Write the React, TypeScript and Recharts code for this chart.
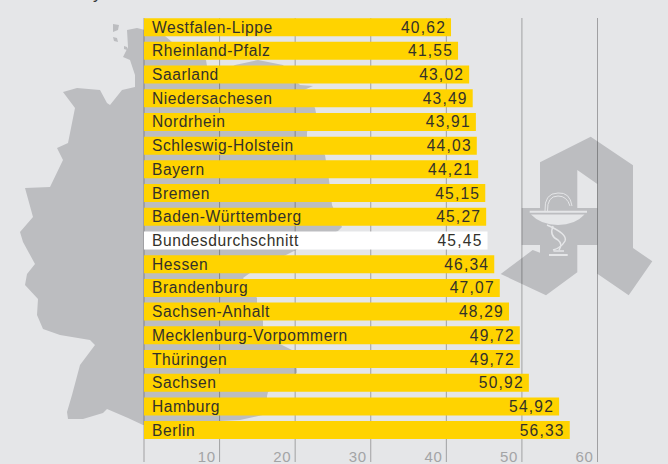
import { Bar, BarChart, CartesianGrid, Cell, LabelList, XAxis, YAxis } from "recharts";

const regions = [
  "Westfalen-Lippe",
  "Rheinland-Pfalz",
  "Saarland",
  "Niedersachesen",
  "Nordrhein",
  "Schleswig-Holstein",
  "Bayern",
  "Bremen",
  "Baden-Württemberg",
  "Bundesdurchschnitt",
  "Hessen",
  "Brandenburg",
  "Sachsen-Anhalt",
  "Mecklenburg-Vorpommern",
  "Thüringen",
  "Sachsen",
  "Hamburg",
  "Berlin",
];
const values = [
  40.62, 41.55, 43.02, 43.49, 43.91, 44.03, 44.21, 45.15, 45.27, 45.45, 46.34,
  47.07, 48.29, 49.72, 49.72, 50.92, 54.92, 56.33,
];
const xTicks = [0, 10, 20, 30, 40, 50, 60];
const averageLabel = "Bundesdurchschnitt";

const data = regions.map((name, i) => ({ name, value: values[i] }));

const FONT = '"Liberation Sans", Arial, sans-serif';
const BG = "#e5e6e8";
const SHAPE = "#bcbdc0";

// backdrop: silhouette of Germany and the pharmacy "A", not data
const MAP_PATH =
  "M127 30 L137 28 L145 30 L165 36 L172 42 L190 52 L206 60 L207 66 L220 74 L235 65 L258 60 L283 65 L295 80 L300 85 L313 86 L304 90 L315 108 L316 113 L307 132 L307 138 L325 155 L329 180 L332 205 L342 227 L338 231 L296 250 L288 254 L250 273 L243 278 L257 298 L257 303 L263 321 L263 326 L280 344 L292 350 L297 370 L297 373 L268 392 L267 396 L267 414 L240 420 L220 421 L143 425 L128 418 L107 409 L103 413 L83 419 L68 419 L67 412 L72 395 L80 365 L95 345 L90 340 L60 335 L43 329 L37 315 L38 299 L25 285 L27 274 L35 264 L23 242 L20 232 L33 217 L25 188 L50 187 L63 160 L57 148 L68 143 L75 108 L63 92 L77 88 L100 90 L107 103 L110 105 L122 90 L135 87 L135 75 L130 60 L123 57 L128 47 Z " +
  "M113 24 L119 25 L118 30 L113 32 Z M113 37 L117 38 L118 42 L114 41 Z M124 46 L127 47 L127 50 L124 49 Z";
const LOGO_PATH =
  "M590.7 136.7 L633 165.3 L633 248 L652.3 261.3 L628.7 295.3 L597.3 273.7 L597.3 245 L577.3 245 L577.3 272.3 L546 295.3 L500.7 274 L532.7 250 L540 252.7 L540 245 L521.7 245 L521.7 208 L540 208 L540 162.3 Z " +
  "M577.3 170 L597.3 184 L597.3 208 L577.3 208 Z";

function Backdrop() {
  return (
    <svg width={668} height={464} style={{ position: "absolute", left: 0, top: 0 }}>
      <path d={MAP_PATH} fill={SHAPE} />
      <path d={LOGO_PATH} fill={SHAPE} fillRule="evenodd" />
      <g fill="none" stroke={BG}>
        <path d="M529.7 211.7 H587" strokeWidth={2} />
        <path d="M545 211 Q544 193 558 193 Q570 192 572 206" strokeWidth={1} />
        <path d="M547.5 211 Q547 196 558 196 Q567 196 570 206" strokeWidth={1} />
        <path d="M547 225 Q568 234 565 241 Q561 248 553 250" strokeWidth={1.5} />
        <path d="M553 226 Q549 236 558 240 Q563 244 559 250" strokeWidth={1.5} />
        <path d="M549 255 H567.7" strokeWidth={2} />
        <path d="M553.5 251 H564" strokeWidth={1.5} />
      </g>
      <path d="M531 214.5 H584.5 Q575 225 558 225 Q541 225 531 214.5 Z" fill={BG} />
      <text x={93} y={-1} fontFamily={FONT} fontSize={17} fill="#3a3a3c">
        y
      </text>
    </svg>
  );
}

function AxisTick({ x, y, payload }: { x: number; y: number; payload: { value: number } }) {
  if (payload.value === 0) return null;
  return (
    <text
      x={x - 4}
      y={y}
      textAnchor="end"
      fontFamily={FONT}
      fontSize={15}
      letterSpacing={0.6}
      fill="#a3a4a6"
    >
      {payload.value}
    </text>
  );
}

export default function App() {
  return (
    <div
      style={{
        position: "absolute",
        left: 0,
        top: 0,
        width: 668,
        height: 464,
        background: BG,
        overflow: "hidden",
      }}
    >
      <Backdrop />
      <div style={{ position: "absolute", left: 0, top: 0 }}>
        <BarChart
          width={668}
          height={464}
          layout="vertical"
          data={data}
          margin={{ top: 18, right: 70.5, bottom: 1, left: 144 }}
        >
          <CartesianGrid
            horizontal={false}
            stroke="#000"
            strokeOpacity={0.3}
            strokeWidth={1}
          />
          <XAxis
            type="number"
            domain={[0, 60]}
            ticks={xTicks}
            height={1}
            interval={0}
            axisLine={false}
            tickLine={false}
            tickSize={0}
            tickMargin={0}
            tick={(props: any) => <AxisTick {...props} />}
          />
          <YAxis
            type="category"
            dataKey="name"
            width={0}
            hide
            padding={{ top: -2.85, bottom: 20.2 }}
          />
          <Bar dataKey="value" barSize={18} fill="#ffd300" isAnimationActive={false}>
            {data.map((d) => (
              <Cell key={d.name} fill={d.name === averageLabel ? "#ffffff" : "#ffd300"} />
            ))}
            <LabelList
              dataKey="name"
              position="insideLeft"
              offset={8}
              fontFamily={FONT}
              fontSize={15.6}
              letterSpacing={0.55}
              fill="#33312a"
            />
            <LabelList
              dataKey="value"
              position="insideRight"
              offset={5}
              fontFamily={FONT}
              fontSize={15.6}
              letterSpacing={1.2}
              fill="#33312a"
              formatter={(v: number) => v.toFixed(2).replace(".", ",")}
            />
          </Bar>
        </BarChart>
      </div>
    </div>
  );
}
